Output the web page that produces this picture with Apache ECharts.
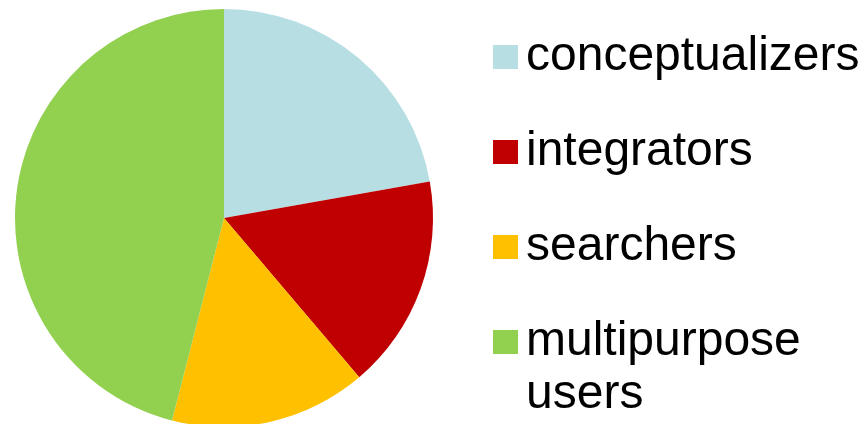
<!DOCTYPE html>
<html>
<head>
<meta charset="utf-8">
<script src="https://cdn.jsdelivr.net/npm/echarts@6/dist/echarts.min.js"></script>
<style>
  html, body { margin: 0; padding: 0; background: #fff; }
  #chart { width: 865px; height: 424px; }
</style>
</head>
<body>
<div id="chart"></div>
<script>
// --- data ---
const categories = ['conceptualizers', 'integrators', 'searchers', 'multipurpose users']
const shares = [22.2, 16.6, 15.2, 46.0]

// colours per slice
const sliceColors = ['#B7DEE3', '#C00000', '#FFC000', '#92D050']

const chart = echarts.init(document.getElementById('chart'), null, {renderer: 'canvas'})

const font = "'Liberation Sans', Arial, sans-serif"
const rowCenters = [57, 152, 247, 342] // legend square centres
const lineH = 53

// one legend per row so the wrapped last label keeps its square on the first line
const legends = categories.map((name, i) => {
  const wrapped = name.indexOf(' ') > 0
  return {
    data: [{name: name, icon: 'rect'}],
    orient: 'vertical',
    left: 493,
    top: wrapped ? rowCenters[i] - lineH * 1.5 : rowCenters[i] - lineH / 2,
    padding: 0,
    itemWidth: 25,
    itemHeight: 24,
    selectedMode: false,
    // a blank first line puts "multipurpose" on the square's line
    formatter: n => (n.indexOf(' ') > 0 ? '\n' + n.replace(' ', '\n') : n),
    textStyle: {
      fontFamily: font,
      fontSize: 48,
      lineHeight: lineH,
      color: '#000',
      padding: [0, 0, 0, 3]
    }
  }
})

chart.setOption({
  animation: false,
  legend: legends,
  series: [{
    type: 'pie',
    center: [224, 218],
    radius: 209,
    startAngle: 90,
    clockwise: true,
    label: {show: false},
    labelLine: {show: false},
    emphasis: {disabled: true},
    itemStyle: {borderWidth: 0},
    data: categories.map((name, i) => ({
      name: name,
      value: shares[i],
      itemStyle: {color: sliceColors[i]}
    }))
  }]
})
</script>
</body>
</html>
